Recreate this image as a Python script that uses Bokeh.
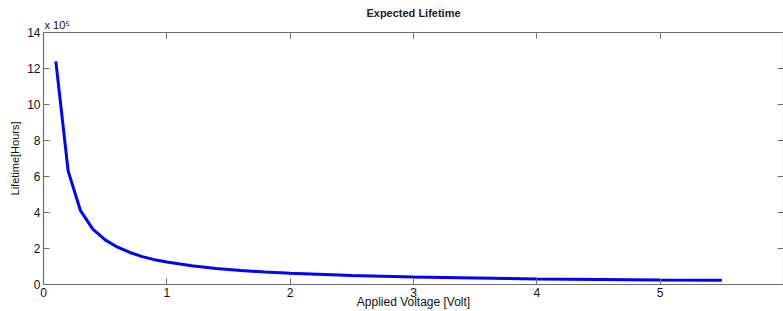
from bokeh.plotting import figure
from bokeh.models import LinearAxis, FixedTicker, Range1d
from bokeh.embed import file_html
from bokeh.resources import INLINE

# Data (lifetime in units of 1e5 hours)
voltage = [0.1, 0.2, 0.3, 0.4, 0.5, 0.6, 0.7, 0.8, 0.9, 1.0,
           1.2, 1.4, 1.6, 1.8, 2.0, 2.5, 3.0, 3.5, 4.0, 4.5, 5.0, 5.5]
lifetime = [12.4, 6.3, 4.1, 3.08, 2.48, 2.07, 1.78, 1.55, 1.38, 1.25,
            1.04, 0.89, 0.78, 0.69, 0.62, 0.50, 0.41, 0.36, 0.31, 0.28, 0.25, 0.23]
x_ticks = [0, 1, 2, 3, 4, 5, 6]
y_ticks = [0, 2, 4, 6, 8, 10, 12, 14]
x_tick_labels = {0: "0", 1: "1", 2: "2", 3: "3", 4: "4", 5: "5", 6: ""}
scale_label = "x 10\u2075"

FONT = "Liberation Sans"
AX = "#6e6e6e"
TXT = "#111111"

p = figure(width=783, height=311, output_backend="svg", toolbar_location=None,
           x_range=Range1d(0, 6), y_range=Range1d(0, 14),
           min_border_left=43, min_border_right=0, min_border_top=32, min_border_bottom=25)
p.outline_line_color = None
p.grid.visible = False
p.background_fill_color = "white"
p.border_fill_color = "white"

p.title.text = ""
p.title.visible = False

def style(ax, ticks):
    ax.ticker = FixedTicker(ticks=ticks)
    ax.minor_tick_line_color = None
    ax.major_tick_in = 6
    ax.major_tick_out = 0
    ax.axis_line_color = AX
    ax.major_tick_line_color = AX
    ax.axis_line_width = 1.2
    ax.major_label_text_font = FONT
    ax.major_label_text_font_size = "12px"
    ax.major_label_text_color = TXT
    ax.major_label_standoff = 3
    ax.axis_label_text_font = FONT
    ax.axis_label_text_font_style = "normal"
    ax.axis_label_text_color = TXT

xa = p.xaxis[0]
style(xa, x_ticks)
xa.major_label_overrides = x_tick_labels
xa.axis_label = "Applied Voltage [Volt]"
xa.axis_label_text_font_size = "12px"
xa.axis_label_standoff = -5

ya = p.yaxis[0]
style(ya, y_ticks)
ya.axis_label = "Lifetime[Hours]"
ya.axis_label_text_font_size = "11px"
ya.axis_label_standoff = 3

top = LinearAxis()
style(top, x_ticks)
top.major_label_overrides = {0: "\u00a0" * 9 + scale_label, 1: "", 2: "", 3: "", 4: "", 5: "", 6: ""}
top.major_label_text_font_size = "11px"
top.major_label_standoff = 2
top.axis_label = "Expected Lifetime"
top.axis_label_text_font_size = "11px"
top.axis_label_text_font_style = "bold"
top.axis_label_text_color = "#222222"
top.axis_label_standoff = -3
p.add_layout(top, "above")

right = LinearAxis()
style(right, y_ticks)
right.major_label_overrides = {t: "" for t in y_ticks}
right.major_label_standoff = 0
p.add_layout(right, "right")

p.line(voltage, lifetime, line_color="#0000ff", line_width=3)

open("out.html", "w").write(file_html(p, INLINE))
